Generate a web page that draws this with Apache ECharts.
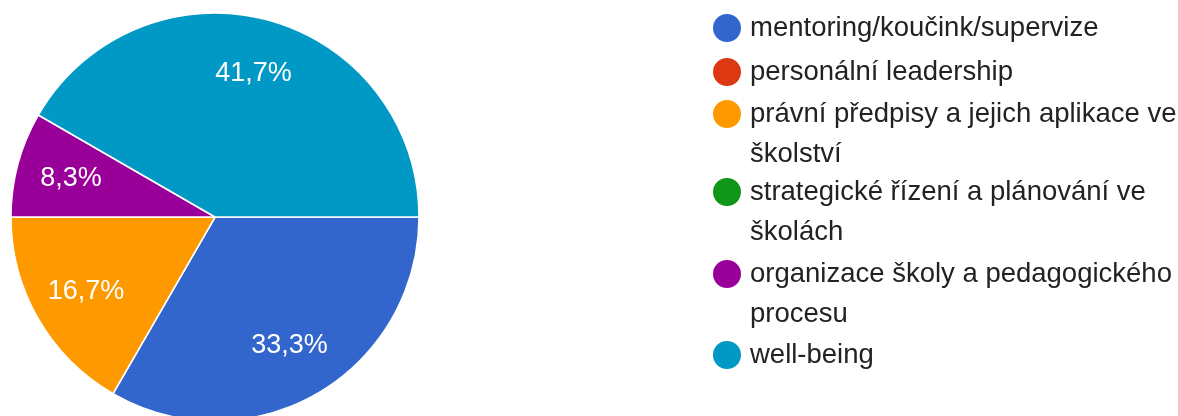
<!DOCTYPE html>
<html>
<head>
<meta charset="utf-8">
<script src="https://cdn.jsdelivr.net/npm/echarts@6/dist/echarts.min.js"></script>
<style>
html,body{margin:0;padding:0;background:#fff;}
#chart{width:1178px;height:416px;}
</style>
</head>
<body>
<div id="chart"></div>
<script>
const categories = [
  'mentoring/koučink/supervize',
  'personální leadership',
  'právní předpisy a jejich aplikace ve školství',
  'strategické řízení a plánování ve školách',
  'organizace školy a pedagogického procesu',
  'well-being'
];
const values = [4, 0, 2, 0, 1, 5];
const colors = ['#3366cc', '#dc3912', '#ff9900', '#109618', '#990099', '#0099c6'];
const legendLines = [
  ['mentoring/koučink/supervize'],
  ['personální leadership'],
  ['právní předpisy a jejich aplikace ve', 'školství'],
  ['strategické řízení a plánování ve', 'školách'],
  ['organizace školy a pedagogického', 'procesu'],
  ['well-being']
];
const legendCenters = [28, 72, 114, 192, 274, 355];

const FONT = '"Liberation Sans", Arial, sans-serif';
const data = categories.map((c, i) => ({ name: c, value: values[i], itemStyle: { color: colors[i] } }));

const legends = categories.map((c, i) => {
  const multi = legendLines[i].length > 1;
  return {
    data: [c],
    orient: 'vertical',
    left: 711,
    top: legendCenters[i] - (multi ? 60 : 20),
    padding: 0,
    icon: 'circle',
    itemWidth: 30,
    itemHeight: 30,
    selectedMode: false,
    formatter: () => (multi ? ' \n' : '') + legendLines[i].join('\n'),
    textStyle: {
      fontFamily: FONT,
      fontSize: 27.5,
      lineHeight: 40,
      color: '#222',
      padding: [0, 0, 0, 3]
    }
  };
});

const chart = echarts.init(document.getElementById('chart'), null, { renderer: 'canvas' });
chart.setOption({
  animation: false,
  backgroundColor: '#ffffff',
  legend: legends,
  series: [
    {
      type: 'pie',
      name: 'main',
      center: [215, 217],
      radius: [0, 204],
      startAngle: 0,
      clockwise: true,
      data: data,
      label: { show: false },
      labelLine: { show: false },
      itemStyle: { borderColor: '#ffffff', borderWidth: 1.5 },
      emphasis: { disabled: true },
      silent: true
    },
    {
      type: 'pie',
      name: 'labels',
      center: [215, 217],
      radius: [88, 204],
      startAngle: 0,
      clockwise: true,
      data: categories.map((c, i) => ({ name: c, value: values[i] })),
      itemStyle: { color: 'rgba(0,0,0,0)', borderWidth: 0 },
      label: {
        show: true,
        position: 'inside',
        color: '#ffffff',
        fontFamily: FONT,
        fontSize: 27,
        formatter: p => p.value > 0 ? p.percent.toFixed(1).replace('.', ',') + '%' : ''
      },
      labelLine: { show: false },
      emphasis: { disabled: true },
      silent: true
    }
  ]
});
</script>
</body>
</html>
